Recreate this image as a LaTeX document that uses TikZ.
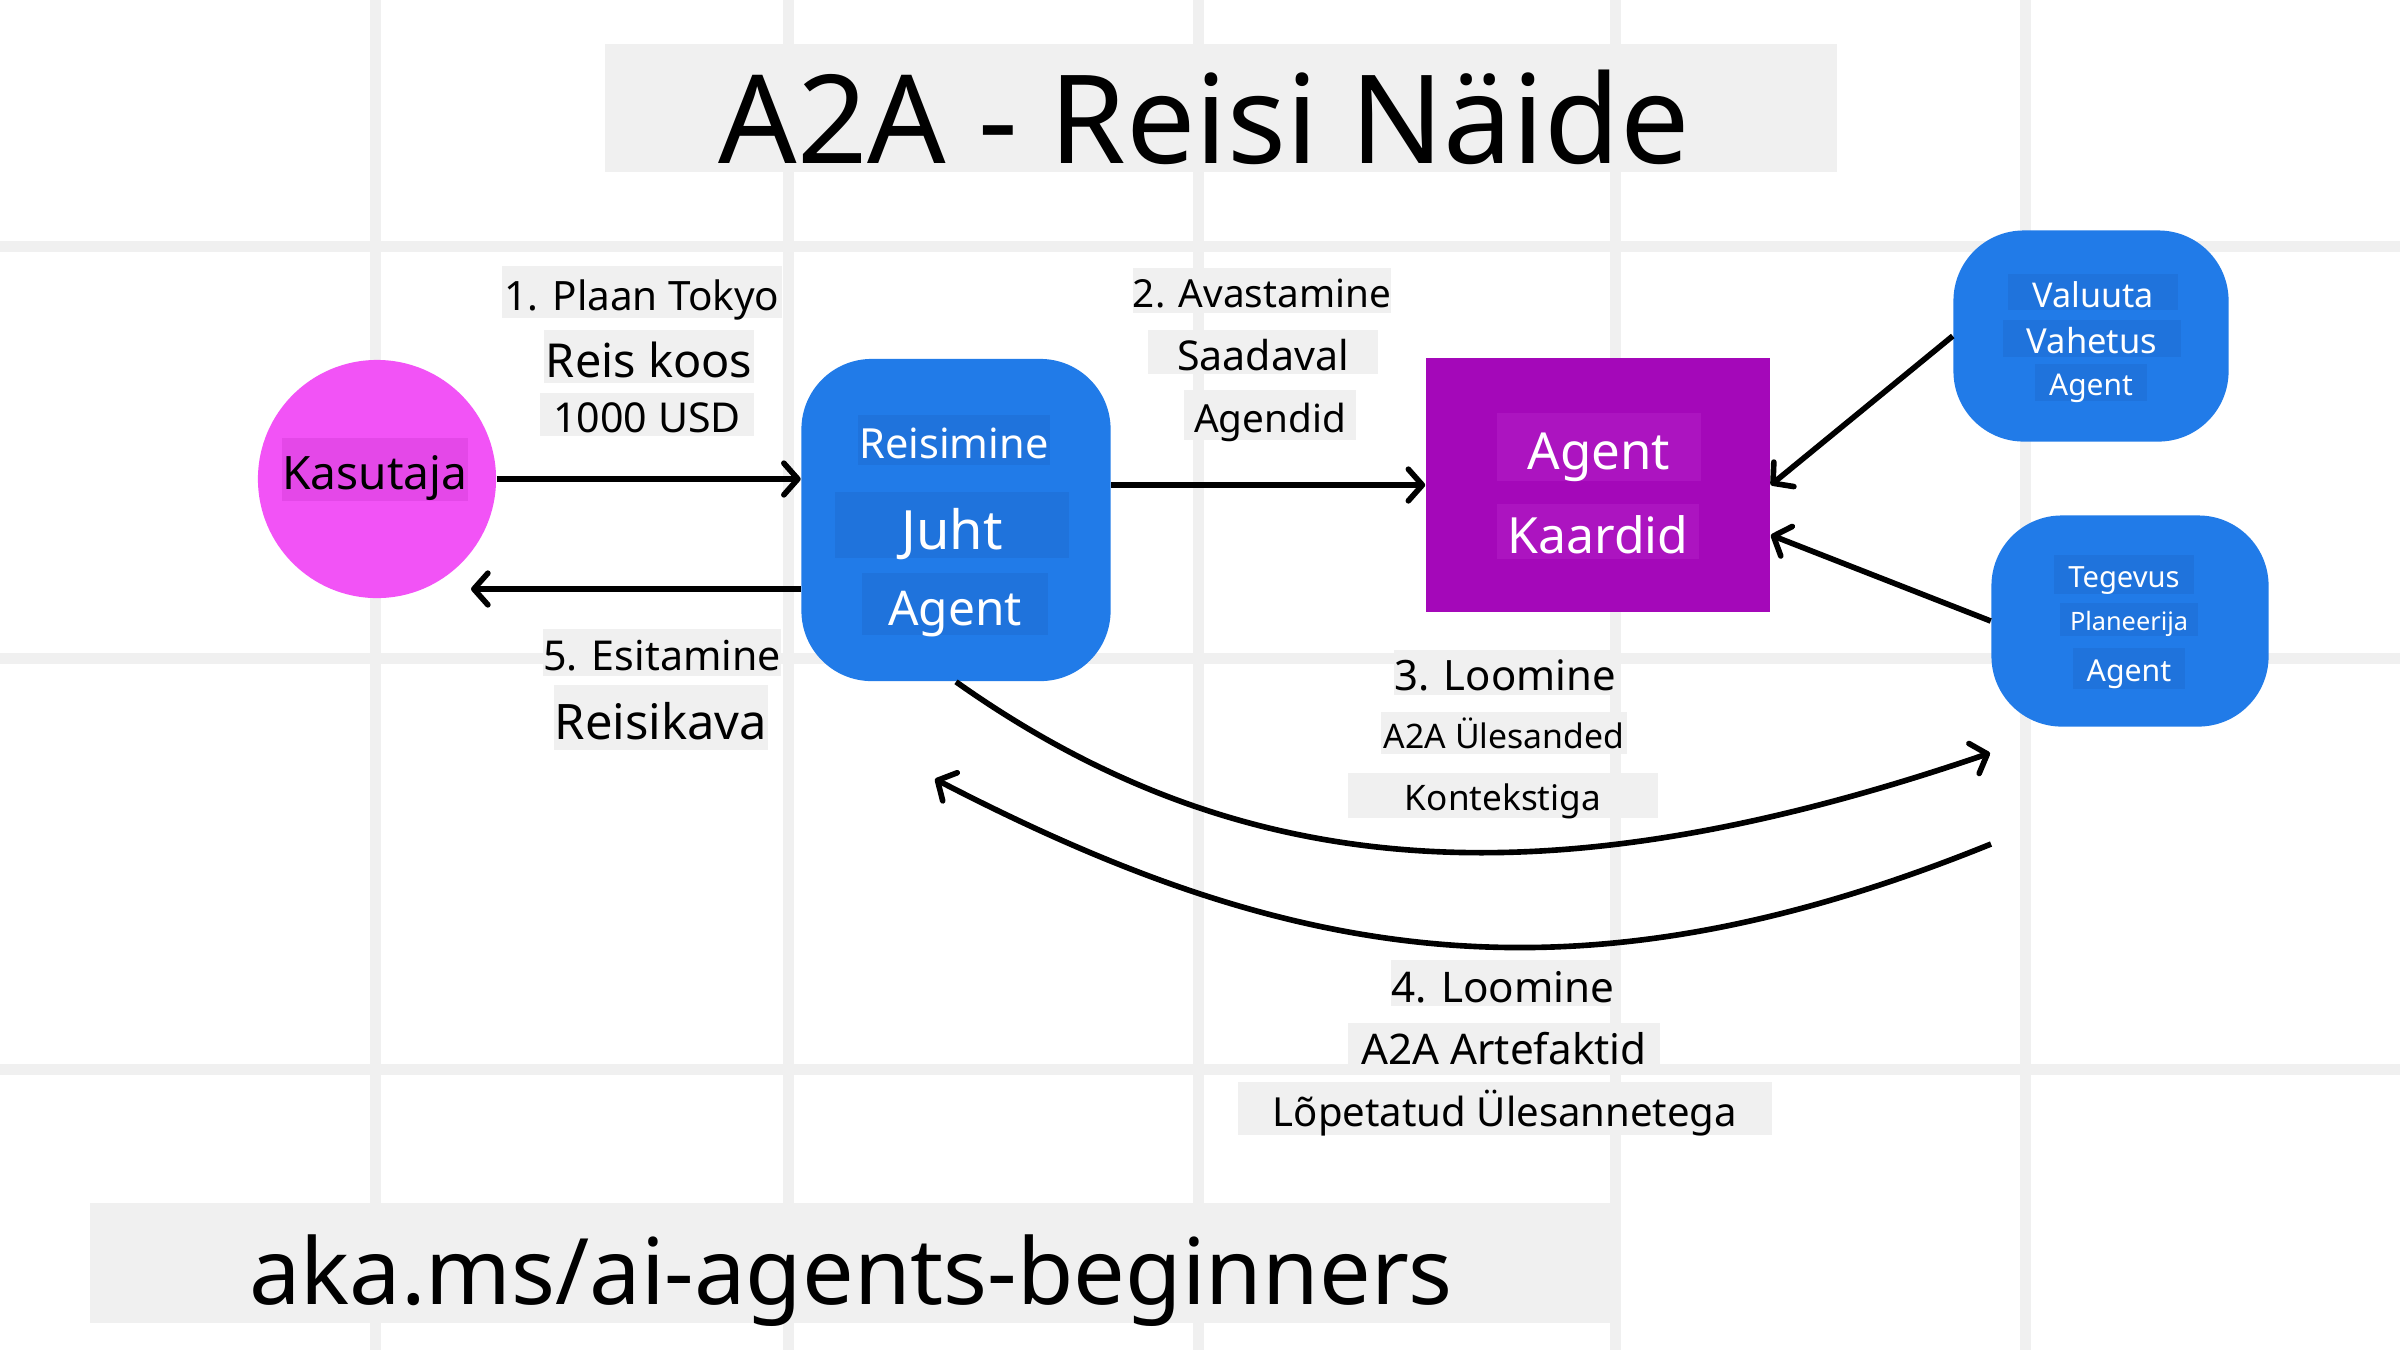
\documentclass[tikz,border=0pt]{standalone}
\usepackage{fontspec}
\setmainfont{Noto Sans}
\usepackage{tikz}
\usetikzlibrary{arrows.meta}
\definecolor{labelgray}{RGB}{240,240,240}
\definecolor{gridgray}{RGB}{240,240,240}
\definecolor{userpink}{RGB}{242,83,246}
\definecolor{userpinkdk}{RGB}{228,72,232}
\definecolor{agentblue}{RGB}{33,123,232}
\definecolor{agentbluedk}{RGB}{31,115,220}
\definecolor{cardpurple}{RGB}{164,8,185}
\definecolor{cardpurplelt}{RGB}{172,20,192}
\tikzset{fs/.style={font=\fontsize{#1}{#1}\selectfont}}
\tikzset{lbl/.style={fill=labelgray, inner sep=0pt, text depth=0pt, execute at begin node={\rule{0pt}{0.9em}}}}
\tikzset{wlbl/.style={lbl, fill=agentbluedk, text=white}}
\tikzset{rbox/.style={fill=agentblue, rounded corners=20pt, inner sep=0pt}}
\tikzset{arr/.style={line width=1.6pt, -{Straight Barb[length=4pt,width=9pt,round]}}}
\tikzset{gridline/.style={draw=gridgray, line width=0.11cm}}

\begin{document}
\begin{tikzpicture}[x=0.01cm,y=-0.01cm]
    \path[use as bounding box, fill=white] (0,0) rectangle (2400,1350);
    \foreach \x in {375,788,1198,1615,2025} \draw[gridline] (\x,0)--(\x,1350);
    \foreach \y in {246,658,1069} \draw[gridline] (0,\y)--(2400,\y);

    \node[lbl, fs=35, minimum width=12.32cm, minimum height=1.27cm] (title) at (1221,108) {A2A - Reisi Näide\kern0.34cm};
    \node[lbl, fs=26.1, minimum width=15.22cm, minimum height=1.19cm] (link) at (851,1263) {aka.ms/ai-agents-beginners};

    % agents
    \node[circle, fill=userpink, minimum size=2.38cm, inner sep=0pt] (kasutaja) at (377,479) {};
    \node[rbox, minimum width=3.09cm, minimum height=3.22cm] (juht) at (956,520) {};
    \node[fill=cardpurple, minimum width=3.44cm, minimum height=2.53cm, inner sep=0pt] (kaardid) at (1598,485) {};
    \node[rbox, minimum width=2.75cm, minimum height=2.11cm] (valuuta) at (2091,336) {};
    \node[rbox, minimum width=2.77cm, minimum height=2.11cm] (tegevus) at (2130,621) {};

    \node[lbl, fill=userpinkdk, fs=13.1, minimum width=1.85cm, minimum height=0.63cm] (kasutajaT) at (375,469) {Kasutaja};
    \node[wlbl, fs=11.8, minimum width=1.91cm, minimum height=0.50cm] (juhtA) at (954,440) {Reisimine};
    \node[wlbl, fs=15.4, minimum width=2.33cm, minimum height=0.66cm] (juhtB) at (952,525) {Juht};
    \node[wlbl, fs=13.6, minimum width=1.85cm, minimum height=0.62cm] (juhtC) at (955,604) {Agent};
    \node[wlbl, fill=cardpurplelt, fs=14.5, minimum width=2.04cm, minimum height=0.68cm] (kaardidA) at (1599,447) {Agent};
    \node[wlbl, fill=cardpurplelt, fs=14.2, minimum width=2.02cm, minimum height=0.55cm] (kaardidB) at (1598,531) {Kaardid};
    \node[wlbl, fs=9.7, minimum width=1.69cm, minimum height=0.36cm] (valuutaA) at (2093,292) {Valuuta};
    \node[wlbl, fs=9.8, minimum width=1.78cm, minimum height=0.37cm] (valuutaB) at (2092,338) {Vahetus};
    \node[wlbl, fs=8.5, minimum width=1.11cm, minimum height=0.37cm] (valuutaC) at (2091,382) {Agent};
    \node[wlbl, fs=8.3, minimum width=1.40cm, minimum height=0.39cm] (tegevusA) at (2124,574) {Tegevus};
    \node[wlbl, fs=7.2, minimum width=1.37cm, minimum height=0.33cm] (tegevusB) at (2129,619) {Planeerija};
    \node[wlbl, fs=8.6, minimum width=1.11cm, minimum height=0.41cm] (tegevusC) at (2129,668) {Agent};

    % step labels
    \node[lbl, fs=11.5, minimum width=2.79cm, minimum height=0.52cm] (plaan) at (642,292) {1. Plaan Tokyo};
    \node[lbl, fs=13.3, minimum width=2.09cm, minimum height=0.53cm] (reis) at (649,356) {Reis koos};
    \node[lbl, fs=11.7, minimum width=2.13cm, minimum height=0.43cm] (usd) at (647,414) {1000 USD};
    \node[lbl, fs=11, minimum width=2.57cm, minimum height=0.45cm] (avast) at (1262,290) {2. Avastamine};
    \node[lbl, fs=11.7, minimum width=2.29cm, minimum height=0.44cm] (saad) at (1263,352) {Saadaval};
    \node[lbl, fs=11, minimum width=1.71cm, minimum height=0.50cm] (agendid) at (1270,415) {Agendid};
    \node[lbl, fs=11.7, minimum width=2.34cm, minimum height=0.47cm] (esit) at (662,652) {5. Esitamine};
    \node[lbl, fs=13.9, minimum width=2.14cm, minimum height=0.65cm] (kava) at (661,717) {Reisikava};
    \node[lbl, fs=11.9, minimum width=2.17cm, minimum height=0.45cm] (loomA) at (1505,672) {3. Loomine};
    \node[lbl, fs=9.6, minimum width=2.45cm, minimum height=0.42cm] (ylesanded) at (1504,733) {A2A Ülesanded};
    \node[lbl, fs=10, minimum width=3.09cm, minimum height=0.45cm] (kontekst) at (1503,795) {Kontekstiga};
    \node[lbl, fs=12, minimum width=2.16cm, minimum height=0.46cm] (loomB) at (1503,983) {4. Loomine};
    \node[lbl, fs=12, minimum width=3.11cm, minimum height=0.45cm] (artef) at (1504,1045) {A2A Artefaktid};
    \node[lbl, fs=11.4, minimum width=5.34cm, minimum height=0.53cm] (lopet) at (1505,1108) {Lõpetatud Ülesannetega};

    % connectors
    \coordinate (back) at (471,589);
    \coordinate (taskend) at (1990,753);
    \coordinate (artstart) at (1991,844);
    \coordinate (artend) at (935,779);
    \draw[arr] (kasutaja.east) -- (kasutaja.east -| juht.west);
    \draw[arr] (juht.east |- kaardid.west) -- (kaardid.west);
    \draw[arr] (juht.west |- back) -- (back);
    \draw[arr] (valuuta.west) -- (kaardid.east);
    \draw[arr] (tegevus.west) -- ([yshift=-0.5cm]kaardid.east);
    \draw[arr] (juht.south) .. controls (1250,890) and (1560,900) .. (taskend);
    \draw[arr] (artstart) .. controls (1574,1013) and (1290,963) .. (artend);
\end{tikzpicture}
\end{document}
